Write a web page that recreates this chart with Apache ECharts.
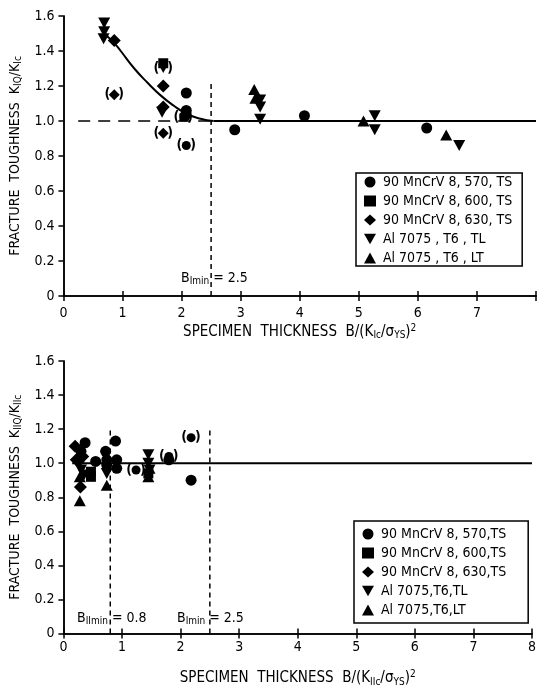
<!DOCTYPE html>
<html>
<head>
<meta charset="utf-8">
<script src="https://cdn.jsdelivr.net/npm/echarts@6/dist/echarts.min.js"></script>
<style>
  html, body { margin: 0; padding: 0; background: #fff; }
  #chart { width: 539px; height: 688px; }
</style>
</head>
<body>
<div id="chart"></div>
<script>
// 读图得到的数据 (x = B/(K/σys)^2, y = K/K)
const topNames = ["90 MnCrV 8, 570, TS", "90 MnCrV 8, 600, TS", "90 MnCrV 8, 630, TS", "Al 7075 , T6 , TL", "Al 7075 , T6 , LT"];
const botNames = ["90 MnCrV 8, 570,TS", "90 MnCrV 8, 600,TS", "90 MnCrV 8, 630,TS", "Al 7075,T6,TL", "Al 7075,T6,LT"];

// 上图 (mode I)
const top570 = [[2.08, 1.16], [2.08, 1.06], [2.06, 1.03], [2.90, 0.95], [4.08, 1.03], [6.15, 0.96]];
const top570Paren = [[2.08, 0.86]];
const top600 = [[1.69, 1.33]];
const top600Paren = [[2.03, 1.02]];
const top630 = [[0.86, 1.46], [1.69, 1.20], [1.69, 1.08]];
const top630Paren = [[0.86, 1.15], [1.69, 0.93]];
const topTL = [[0.69, 1.56], [0.69, 1.51], [0.68, 1.47], [1.67, 1.05], [3.33, 1.12], [3.33, 1.08], [3.33, 1.01], [5.27, 1.03], [5.27, 0.95], [6.70, 0.86]];
const topTLParen = [[1.69, 1.30]];
const topLT = [[3.23, 1.18], [3.25, 1.13], [5.08, 1.0], [6.48, 0.92]];
const topCurve = [[0.69, 1.50], [0.86, 1.445], [0.97, 1.40], [1.20, 1.30], [1.42, 1.22], [1.65, 1.145], [1.87, 1.087], [2.09, 1.04], [2.32, 1.013], [2.54, 1.0]];
const topFlat = [[2.54, 1.0], [8, 1.0]];
const topRef = [[0.25, 1.0], [2.5, 1.0]];
const topBmin = [[2.5, 0], [2.5, 1.23]];

// 下图 (mode II)
const bot570 = [[0.30, 1.07], [0.37, 1.12], [0.27, 1.02], [0.55, 1.01], [0.72, 1.07], [0.74, 1.02], [0.74, 0.99], [0.89, 1.13], [0.91, 1.02], [0.91, 0.97], [1.80, 1.02], [2.18, 0.90]];
const bot570Paren = [[1.24, 0.96], [1.80, 1.04], [2.18, 1.15]];
const bot600 = [[0.47, 0.95], [0.47, 0.92], [1.45, 0.94]];
const bot630 = [[0.20, 1.10], [0.22, 1.02], [0.33, 1.04], [0.29, 0.86]];
const botTL = [[0.30, 0.96], [0.35, 0.93], [0.74, 0.94], [1.45, 1.05], [1.45, 1.00], [1.47, 0.96]];
const botLT = [[0.28, 0.78], [0.28, 0.92], [0.74, 0.87], [1.45, 0.92], [1.47, 0.97]];
const botFlat = [[0.15, 1.0], [8, 1.0]];
const botBIImin = [[0.8, 0], [0.8, 1.21]];
const botBImin = [[2.5, 0], [2.5, 1.21]];

const FONT = "DejaVu Sans Condensed, DejaVu Sans, sans-serif";
const DOWN = "path://M0,0L2,0L1,1.75Z";
const symbols = ["circle", "rect", "diamond", DOWN, "triangle"];
const sizes = [11, 10, 13, [12, 11], [12, 11]];

const subRich = {
  sub: { fontSize: 10, fontFamily: FONT, color: "#000", padding: [7, 0, 0, 0] },
  sup: { fontSize: 10, fontFamily: FONT, color: "#000", padding: [0, 0, 8, 0] }
};

// 括号内的点: 小一点, 两侧加括号
function withParen(pts, paren, size) {
  return pts.concat(paren.map(p => ({
    value: p,
    symbolSize: size,
    label: {
      show: true, position: "inside", formatter: "({g|})",
      fontSize: 14, fontWeight: "bold", fontFamily: FONT, color: "#000",
      rich: { g: { width: 8 } }
    }
  })));
}

function pointSeries(names, sets, xi, yi) {
  return sets.map((d, i) => ({
    name: names[i],
    type: "scatter",
    xAxisIndex: xi,
    yAxisIndex: yi,
    symbol: symbols[i],
    symbolSize: sizes[i],
    itemStyle: { color: "#000", opacity: 1 },
    data: d,
    z: 3
  }));
}

function lineSeries(data, xi, yi, type, width, smooth) {
  return {
    type: "line",
    xAxisIndex: xi,
    yAxisIndex: yi,
    data: data,
    smooth: smooth || false,
    symbol: "none",
    silent: true,
    lineStyle: { color: "#000", width: width, type: type },
    z: 2
  };
}

function xAxes(grid, name, showLast, margin, gap) {
  return [
    {
      gridIndex: grid, type: "value", position: "bottom", min: 0, max: 8, interval: 1,
      axisLine: { lineStyle: { color: "#000", width: 1.5 } },
      axisTick: { inside: true, length: 5, lineStyle: { color: "#000", width: 1.5 } },
      axisLabel: {
        color: "#000", fontSize: 14, fontFamily: FONT, margin: margin,
        formatter: v => (v === 8 && !showLast ? "" : String(v))
      },
      splitLine: { show: false },
      name: name, nameLocation: "middle", nameGap: gap,
      nameTextStyle: { color: "#000", fontSize: 15, fontFamily: FONT, rich: subRich }
    },
    {
      gridIndex: grid, type: "value", position: "top", min: 0, max: 8, interval: 1,
      axisLine: { lineStyle: { color: "#000", width: 1.5 } },
      axisTick: { inside: true, length: 5, lineStyle: { color: "#000", width: 1.5 } },
      axisLabel: { show: false },
      splitLine: { show: false }
    }
  ];
}

function yAxes(grid, name) {
  return [
    {
      gridIndex: grid, type: "value", position: "left", min: 0, max: 1.6, interval: 0.2,
      axisLine: { lineStyle: { color: "#000", width: 1.5 } },
      axisTick: { inside: false, length: 5, lineStyle: { color: "#000", width: 1.5 } },
      axisLabel: {
        color: "#000", fontSize: 14, fontFamily: FONT, margin: 9,
        formatter: v => (v === 0 ? "0" : v.toFixed(1))
      },
      splitLine: { show: false },
      name: name, nameLocation: "middle", nameGap: 29, nameRotate: 90,
      nameTextStyle: { color: "#000", fontSize: 14, fontFamily: FONT, rich: subRich }
    },
    {
      gridIndex: grid, type: "value", position: "right", min: 0, max: 1.6, interval: 0.2,
      axisLine: { lineStyle: { color: "#000", width: 1.5 } },
      axisTick: { inside: true, length: 5, lineStyle: { color: "#000", width: 1.5 } },
      axisLabel: { show: false },
      splitLine: { show: false }
    }
  ];
}

function legend(names, left, top, padding) {
  return {
    data: names,
    orient: "vertical",
    left: left,
    top: top,
    backgroundColor: "#fff",
    borderColor: "#000",
    borderWidth: 1.5,
    borderRadius: 0,
    padding: padding,
    itemWidth: 12,
    itemHeight: 11,
    itemGap: 5,
    selectedMode: false,
    textStyle: { color: "#000", fontSize: 14, fontFamily: FONT, padding: [0, 0, 0, 2] }
  };
}

function bLabel(text, x, y) {
  return {
    type: "text", left: x, top: y,
    style: {
      text: text, fill: "#000", fontSize: 14, fontFamily: FONT,
      rich: { sub: subRich.sub }
    },
    z: 5
  };
}

const chart = echarts.init(document.getElementById("chart"), null, { renderer: "canvas" });

const option = {
  backgroundColor: "#fff",
  animation: false,
  grid: [
    { left: 62, top: 16, width: 478, height: 280 },
    { left: 62, top: 361, width: 475, height: 280 }
  ],
  xAxis: xAxes(0, "SPECIMEN  THICKNESS  B/(K{sub|Ic}/σ{sub|YS}){sup|2}", false, 10, 27)
    .concat(xAxes(1, "SPECIMEN  THICKNESS  B/(K{sub|IIc}/σ{sub|YS}){sup|2}", true, 7, 36)),
  yAxis: yAxes(0, "FRACTURE  TOUGHNESS  K{sub|IQ}/K{sub|Ic}")
    .concat(yAxes(1, "FRACTURE  TOUGHNESS  K{sub|IIQ}/K{sub|IIc}")),
  legend: [
    legend(topNames, 356, 173, [2, 10, 1, 8]),
    legend(botNames, 354, 521, [6, 22, 6, 8])
  ],
  graphic: [
    bLabel("B{sub|Imin} = 2.5", 181, 271),
    bLabel("B{sub|IImin} = 0.8", 77, 611),
    bLabel("B{sub|Imin} = 2.5", 177, 611)
  ],
  series: [
    lineSeries(topCurve, 0, 0, "solid", 2, true),
    lineSeries(topFlat, 0, 0, "solid", 2),
    lineSeries(topRef, 0, 0, [12, 8], 1.5),
    lineSeries(topBmin, 0, 0, [5, 4], 1.5),
    lineSeries(botFlat, 2, 2, "solid", 2),
    lineSeries(botBIImin, 2, 2, [5, 4], 1.5),
    lineSeries(botBImin, 2, 2, [5, 4], 1.5)
  ]
    .concat(pointSeries(topNames, [
      withParen(top570, top570Paren, 9),
      withParen(top600, top600Paren, 8),
      withParen(top630, top630Paren, 11),
      withParen(topTL, topTLParen, [10, 9]),
      topLT
    ], 0, 0))
    .concat(pointSeries(botNames, [
      withParen(bot570, bot570Paren, 9),
      bot600,
      bot630,
      botTL,
      botLT
    ], 2, 2))
};

chart.setOption(option);
</script>
</body>
</html>
